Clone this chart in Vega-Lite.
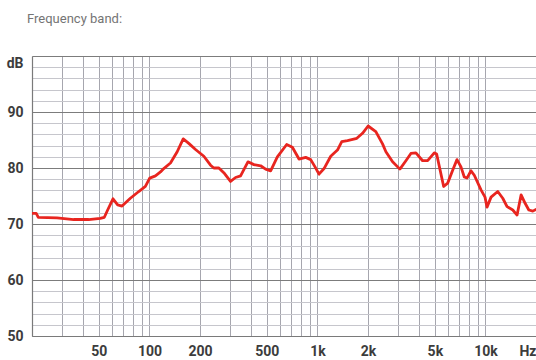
{
  "$schema": "https://vega.github.io/schema/vega-lite/v6.json",
  "width": 504,
  "height": 280,
  "autosize": {"type": "none"},
  "padding": {"left": 32, "top": 56, "right": 0, "bottom": 24},
  "background": "#ffffff",
  "title": {
    "text": "Frequency band:",
    "anchor": "start",
    "frame": "group",
    "dx": -5,
    "offset": 24,
    "baseline": "middle",
    "font": "Roboto",
    "fontWeight": 400,
    "fontSize": 13,
    "color": "#747474"
  },
  "config": {
    "view": {"stroke": null},
    "axis": {
      "labelFont": "Roboto",
      "labelFontWeight": 700,
      "labelFontSize": 14,
      "labelColor": "#3c3c3c",
      "ticks": false,
      "title": null,
      "domainColor": "#7a7a7a",
      "domainWidth": 1.2
    }
  },
  "data": {
    "values": [
      {"f": 20, "db": 71.9},
      {"f": 21.2, "db": 71.9},
      {"f": 21.8, "db": 71.2},
      {"f": 28.2, "db": 71.1},
      {"f": 35.4, "db": 70.8},
      {"f": 43.5, "db": 70.8},
      {"f": 51.0, "db": 71.0},
      {"f": 53.9, "db": 71.2},
      {"f": 56.4, "db": 72.5},
      {"f": 60.7, "db": 74.5},
      {"f": 64.7, "db": 73.4},
      {"f": 68.7, "db": 73.2},
      {"f": 77.0, "db": 74.6},
      {"f": 86.4, "db": 75.8},
      {"f": 94.6, "db": 76.7},
      {"f": 100.4, "db": 78.2},
      {"f": 108.6, "db": 78.6},
      {"f": 116.3, "db": 79.3},
      {"f": 121.7, "db": 79.9},
      {"f": 133.4, "db": 80.9},
      {"f": 146.3, "db": 82.9},
      {"f": 158.9, "db": 85.2},
      {"f": 171.5, "db": 84.4},
      {"f": 188.1, "db": 83.3},
      {"f": 210.8, "db": 82.1},
      {"f": 231.1, "db": 80.5},
      {"f": 241.8, "db": 80.0},
      {"f": 259, "db": 80.0},
      {"f": 280, "db": 79.0},
      {"f": 304, "db": 77.6},
      {"f": 325.6, "db": 78.3},
      {"f": 348.8, "db": 78.6},
      {"f": 385.8, "db": 81.1},
      {"f": 418.8, "db": 80.6},
      {"f": 459.1, "db": 80.4},
      {"f": 491.7, "db": 79.8},
      {"f": 526.6, "db": 79.5},
      {"f": 577.4, "db": 82.0},
      {"f": 656.1, "db": 84.2},
      {"f": 709.4, "db": 83.7},
      {"f": 776.8, "db": 81.6},
      {"f": 851.6, "db": 81.9},
      {"f": 912, "db": 81.5},
      {"f": 967.6, "db": 80.2},
      {"f": 1022, "db": 78.9},
      {"f": 1095, "db": 79.9},
      {"f": 1200, "db": 82.1},
      {"f": 1316, "db": 83.2},
      {"f": 1396, "db": 84.7},
      {"f": 1510, "db": 84.9},
      {"f": 1716, "db": 85.3},
      {"f": 1855, "db": 86.2},
      {"f": 2003, "db": 87.5},
      {"f": 2226, "db": 86.5},
      {"f": 2441, "db": 84.3},
      {"f": 2556, "db": 82.9},
      {"f": 2801, "db": 81.1},
      {"f": 3096, "db": 79.8},
      {"f": 3362, "db": 81.3},
      {"f": 3601, "db": 82.6},
      {"f": 3857, "db": 82.7},
      {"f": 4228, "db": 81.3},
      {"f": 4529, "db": 81.3},
      {"f": 4960, "db": 82.7},
      {"f": 5124, "db": 82.5},
      {"f": 5641, "db": 76.7},
      {"f": 5961, "db": 77.3},
      {"f": 6383, "db": 79.6},
      {"f": 6771, "db": 81.5},
      {"f": 7152, "db": 80.2},
      {"f": 7484, "db": 78.4},
      {"f": 7768, "db": 78.2},
      {"f": 8207, "db": 79.5},
      {"f": 8587, "db": 78.7},
      {"f": 9413, "db": 76.1},
      {"f": 9945, "db": 74.8},
      {"f": 10220, "db": 73.0},
      {"f": 10800, "db": 74.8},
      {"f": 11840, "db": 75.8},
      {"f": 12680, "db": 74.6},
      {"f": 13450, "db": 73.1},
      {"f": 14550, "db": 72.5},
      {"f": 15430, "db": 71.6},
      {"f": 16310, "db": 75.2},
      {"f": 17230, "db": 73.7},
      {"f": 18130, "db": 72.5},
      {"f": 19150, "db": 72.3},
      {"f": 20000, "db": 72.6}
    ]
  },
  "mark": {"type": "line", "color": "#e8251f", "strokeWidth": 2.8, "strokeJoin": "round", "strokeCap": "round", "clip": true},
  "encoding": {
    "x": {
      "field": "f",
      "type": "quantitative",
      "scale": {"type": "log", "domain": [20, 20000], "nice": false},
      "axis": {
        "values": [20, 30, 40, 50, 60, 70, 80, 90, 100, 200, 300, 400, 500, 600, 700, 800, 900, 1000, 2000, 3000, 4000, 5000, 6000, 7000, 8000, 9000, 10000, 20000],
        "labelExpr": "datum.value == 50 ? '50' : datum.value == 100 ? '100' : datum.value == 200 ? '200' : datum.value == 500 ? '500' : datum.value == 1000 ? '1k' : datum.value == 2000 ? '2k' : datum.value == 5000 ? '5k' : datum.value == 10000 ? '10k' : datum.value == 20000 ? 'Hz' : ''",
        "labelFlush": true,
        "labelOverlap": false,
        "labelPadding": 8,
        "grid": true,
        "gridColor": "#a6a6ae",
        "gridWidth": 1
      }
    },
    "y": {
      "field": "db",
      "type": "quantitative",
      "scale": {"domain": [50, 100], "nice": false, "zero": false},
      "axis": {
        "values": [50, 52, 54, 56, 58, 60, 62, 64, 66, 68, 70, 72, 74, 76, 78, 80, 82, 84, 86, 88, 90, 92, 94, 96, 98, 100],
        "labelExpr": "datum.value == 100 ? 'dB' : datum.value % 10 == 0 ? datum.label : ''",
        "labelOverlap": false,
        "labelPadding": 9,
        "labelBaseline": {"condition": {"test": "datum.value == 100", "value": "top"}, "value": "middle"},
        "grid": true,
        "gridColor": {"condition": {"test": "datum.value % 10 == 0", "value": "#7c7c7c"}, "value": "#c6c6cc"},
        "gridWidth": 1
      }
    }
  }
}
